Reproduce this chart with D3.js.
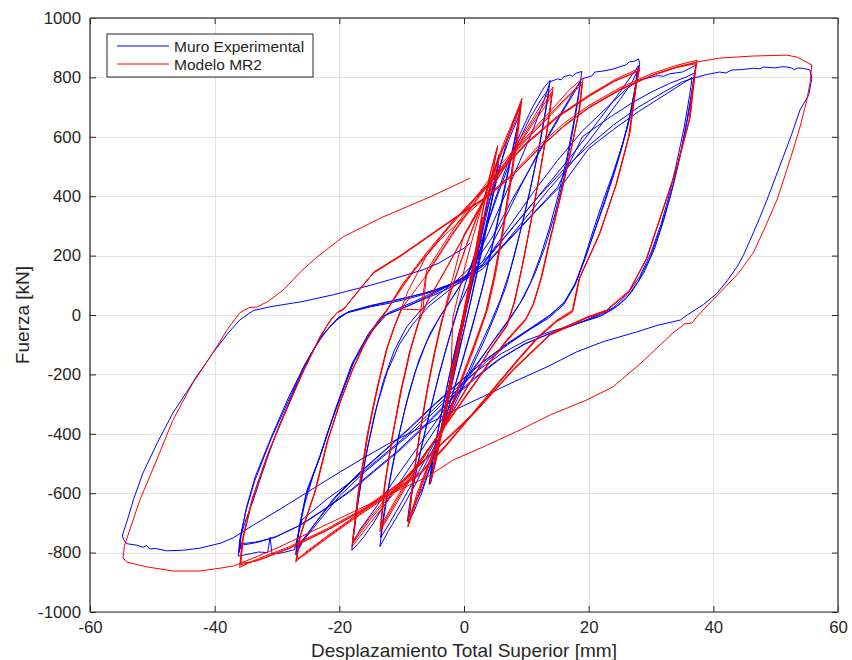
<!DOCTYPE html>
<html>
<head>
<meta charset="utf-8">
<script src="https://cdn.jsdelivr.net/npm/d3@7"></script>
<style>
  body { margin: 0; background: #fff; }
  text { font-family: "Liberation Sans", Arial, Helvetica, sans-serif; fill: #262626; }
</style>
</head>
<body>
<svg id="chart" width="852" height="660"></svg>
<script>
// Ticks
const xTicks = [-60, -40, -20, 0, 20, 40, 60];
const yTicks = [-1000, -800, -600, -400, -200, 0, 200, 400, 600, 800, 1000];

// Series names
const seriesNames = ["Muro Experimental", "Modelo MR2"];

// ---- Muro Experimental: [desplazamiento mm, fuerza kN], tramo a tramo ----
const muroNivel1 = [[0,0],[1.2,120],[2.4,240],[3.1,310],[2.6,250],[1.4,120],[0.2,0],[-1,-120],[-2.2,-240],[-3.2,-330],[-2.7,-270],[-1.5,-150],[-0.5,-40],[0.6,70],[1.8,190],[3,300],[2.4,230],[1.2,100],[0,-20],[-1.4,-150],[-2.6,-260],[-3.1,-320],[-2.4,-240],[-1.2,-110],[-0.3,-20]];
const muroNivel2 = [[0.8,90],[2,200],[3.2,320],[4.4,440],[5.6,540],[5.2,470],[4,340],[2.6,200],[1.2,60],[-0.4,-90],[-2,-240],[-3.6,-390],[-4.8,-500],[-5.6,-570],[-5.1,-490],[-3.9,-360],[-2.5,-220],[-1,-80],[0.4,40],[1.8,170],[3.2,300],[4.5,420],[5.5,510],[5,440],[3.7,300],[2.2,150],[0.8,20],[-0.8,-120],[-2.4,-270],[-3.9,-410],[-5.3,-540],[-4.9,-470],[-3.6,-330],[-2.2,-190],[-0.8,-60]];
const muroNivel3 = [[0.6,40],[2,160],[3.6,310],[5.2,450],[6.8,580],[8.2,670],[9.1,705],[8.6,640],[7.4,520],[6,380],[4.6,240],[3.2,110],[1.8,0],[0.2,-120],[-1.6,-250],[-3.4,-380],[-5.2,-500],[-6.8,-600],[-8.2,-670],[-9.1,-695],[-8.6,-620],[-7.4,-500],[-6,-370],[-4.6,-250],[-3.1,-130],[-1.6,-20],[0,90],[1.8,210],[3.6,350],[5.4,480],[7.2,590],[8.6,660],[9,690],[8.4,610],[7.1,480],[5.7,340],[4.2,200],[2.7,70],[1.2,-50],[-0.6,-180],[-2.6,-320],[-4.6,-460],[-6.6,-580],[-8.4,-660],[-8.9,-680],[-8.3,-590],[-7,-460],[-5.5,-330],[-4,-200],[-2.4,-80],[-0.8,30]];
const muroNivel4 = [[1,110],[3,250],[5,390],[7,510],[9,610],[11,700],[12.8,765],[13.8,790],[13.4,720],[12.3,590],[11,460],[9.6,330],[8.2,210],[6.8,100],[5.2,10],[3.4,-80],[1.4,-170],[-0.8,-270],[-3,-370],[-5.4,-470],[-7.8,-570],[-10.2,-660],[-12.2,-730],[-13.5,-780],[-13,-700],[-12,-570],[-10.8,-440],[-9.4,-310],[-7.8,-190],[-6,-90],[-4,-10],[-1.8,60],[0.6,140],[3,260],[5.5,410],[8,550],[10.5,660],[12.5,730],[13.6,760],[13,680],[11.8,540],[10.4,400],[8.9,270],[7.4,150],[5.8,50],[4,-40],[2,-130],[-0.2,-230],[-2.6,-340],[-5,-440],[-7.6,-540],[-10,-630],[-12.2,-710],[-13.4,-750],[-12.8,-660],[-11.6,-520],[-10.3,-390],[-8.8,-260],[-7.2,-150],[-5.4,-60],[-3.4,10],[-1.2,80],[1.5,170]];
const muroNivel5 = [[4,280],[6.5,400],[9,520],[11,620],[12.8,720],[13.8,785],[15,795],[15.6,792],[16,802],[17,808],[17.4,804],[18,814],[18.9,820],[18.5,760],[17.6,650],[16.5,530],[15.2,410],[13.8,300],[12.3,200],[10.7,110],[9,40],[7,-20],[4.6,-90],[2,-170],[-0.8,-260],[-3.8,-360],[-7,-460],[-10.2,-560],[-13.4,-660],[-14.5,-700],[-16,-745],[-17,-770],[-18,-792],[-17.6,-720],[-16.8,-600],[-15.7,-470],[-14.4,-340],[-12.9,-220],[-11.2,-120],[-9.2,-40],[-6.8,20],[-4,70],[-1,120],[1.5,170],[4.5,260],[7.5,380],[10.5,490],[13.5,600],[16,690],[18,760],[18.7,790],[18.2,710],[17.2,590],[16,460],[14.6,340],[13,230],[11.4,140],[9.6,60],[7.5,-10],[5,-80],[2.2,-160],[-1,-250],[-4.2,-350],[-7.6,-450],[-11,-550],[-14.2,-650],[-16.6,-720],[-17.9,-770],[-17.4,-690],[-16.5,-560],[-15.3,-430],[-13.9,-300],[-12.3,-190],[-10.4,-100],[-8.2,-30],[-5.6,30],[-2.6,80],[0.4,130],[3,180]];
const muroNivel6 = [[6,300],[9,430],[12,550],[15,660],[17.5,750],[18.9,795],[20.5,805],[21,818],[22.5,822],[23.9,828],[25,836],[26,842],[26.5,852],[27.4,855],[28,862],[28.2,845],[27.9,810],[27.2,720],[26.2,630],[25.2,560],[23.8,470],[22.4,390],[20.8,290],[19.3,190],[17.8,100],[16,35],[13.6,-10],[10.5,-50],[7,-100],[3.4,-160],[0,-230],[-4,-310],[-8,-390],[-12,-460],[-16,-530],[-20,-610],[-23.5,-700],[-25.8,-760],[-27,-808],[-26.8,-757],[-25.6,-640],[-24.2,-540],[-23.1,-478],[-21.8,-390],[-20.4,-310],[-19,-230],[-17.8,-162],[-16.4,-105],[-15.1,-61],[-13,-7],[-11.9,10],[-8,45],[-4,85],[0,125],[3,170],[6.5,260],[10,350],[13.5,440],[17,530],[20,610],[22.5,680],[25,750],[27,810],[28,840],[27.6,780],[26.7,680],[25.5,580],[24.2,490],[22.8,400],[21.2,300],[19.6,200],[18,110],[16.2,45],[13.8,0],[10.6,-45],[7,-95],[3.2,-155],[-0.6,-225],[-4.6,-300],[-8.6,-380],[-12.6,-455],[-16.6,-530],[-20.4,-610],[-23.8,-700],[-26,-760],[-26.8,-790],[-26.4,-710],[-25.2,-590],[-23,-470],[-20.3,-300],[-17.6,-155],[-14.8,-55],[-12.5,0],[-8.5,35],[-4.5,70],[-0.5,110],[3,155],[6.5,240],[10,330],[13.5,420],[17,505],[20,585],[22.5,655],[25,725],[27,785],[27.8,822],[27.4,760],[26.5,660],[25.3,560],[24,470],[22.6,380],[21,285],[19.4,190],[17.8,105],[16,40],[13.6,-5],[10.4,-50],[6.8,-100],[3,-160],[-1,-230],[-5,-305],[-9,-385],[-13,-460],[-17,-535],[-20.8,-615],[-24,-705],[-26.2,-770],[-26.9,-800],[-26.6,-735],[-25.4,-610],[-23.2,-480],[-20.6,-315],[-18,-165],[-15.3,-62],[-13.2,-5],[-9,30]];
const muroNivel7 = [[-5,70],[-1,115],[3,170],[7,290],[11,410],[15,520],[19,620],[23,700],[26,760],[28,790],[29,796],[30,800],[31,806],[32,804],[33,812],[34,815],[35,818],[36,828],[37.2,842],[37,800],[36.4,720],[35.5,620],[34.4,510],[33.1,400],[31.6,295],[29.9,195],[28,115],[26,55],[23.8,18],[21.8,-5],[18,-30],[14,-55],[10,-85],[6,-130],[2,-190],[-2,-260],[-6,-340],[-10,-420],[-14,-490],[-18,-560],[-22,-620],[-26,-690],[-27.2,-790],[-29,-800],[-30.8,-805],[-31.1,-748],[-31.5,-800],[-33,-798],[-34.5,-805],[-36.2,-812],[-36,-757],[-35,-690],[-33.8,-623],[-32.5,-540],[-31.1,-455],[-29.8,-380],[-28.4,-310],[-27.1,-245],[-25.8,-185],[-24.5,-130],[-23.1,-84],[-21.8,-45],[-20.4,-17],[-18.8,7],[-15.1,27],[-11.9,40],[-8,60],[-4,85],[0,120],[3,165],[7,250],[11,340],[15,430],[19,600],[23,660],[27,715],[30,750],[33,780],[35.5,800],[37,815],[36.6,760],[35.8,660],[34.8,550],[33.6,440],[32.2,330],[30.6,225],[28.8,140],[26.8,75],[24.6,30],[22,0],[18,-30],[14,-60],[10,-95],[6,-145],[2,-210],[-2,-285],[-6,-370],[-10,-450],[-14,-520],[-18,-590],[-22,-650],[-26,-705],[-30,-745],[-33,-765],[-35.6,-775],[-36,-790],[-35.8,-740],[-35,-660],[-33.6,-560],[-31,-420],[-28.2,-290],[-25.6,-170],[-23,-75],[-20.2,-10],[-18.6,10],[-15,30],[-11.8,45],[-7,70],[-3,95],[1,135],[4,180],[8,270],[12,360],[16,445],[20,560],[24,625],[28,685],[31,725],[34,765],[36.6,800],[36.2,740],[35.3,630],[34.2,520],[33,410],[31.6,305],[30,210],[28.2,130],[26.2,70],[24,25],[21.5,0],[17.5,-35],[13.5,-65],[9.5,-100],[5.5,-150],[1.5,-215],[-2.5,-290],[-6.5,-375],[-10.5,-455],[-14.5,-525],[-18.5,-595],[-22.5,-655],[-26.5,-710],[-30.5,-750],[-33.5,-765],[-35.8,-770],[-36.1,-800],[-35.7,-730],[-34.8,-640],[-33.5,-545],[-30.9,-410],[-28.2,-280],[-25.5,-165],[-22.9,-72],[-20.1,-8],[-18.4,12],[-15,32],[-11,50],[-6,75],[-2,105],[1,140]];
const muroNivel8 = [[4,200],[8,300],[12,400],[16,490],[20,570],[24,640],[28,700],[32,750],[35,785],[37.4,801],[39,810],[41,818],[42,815],[43,825],[44.5,826],[46.4,831],[47.5,829],[48,835],[50,832],[51,836],[51.8,835],[52.5,832],[53,826],[53.6,832],[54.5,830],[55.5,825],[55.8,797],[55.3,740],[53.9,690],[52.6,610],[51.2,532],[50,465],[48.8,398],[47.4,325],[45.9,252],[44.8,200],[43.8,162],[42.2,115],[40.6,73],[38.4,35],[35.8,0],[34.7,-17],[31,-35],[27.7,-57],[22.3,-90],[18.1,-124],[13.3,-175],[7.9,-226],[3,-275],[-2,-325],[-7,-380],[-11.9,-431],[-16,-480],[-20,-530],[-25,-595],[-30,-660],[-34,-710],[-37,-750],[-39,-768],[-42.4,-785],[-45,-792],[-47.7,-794],[-49.5,-786],[-50.4,-788],[-50.9,-776],[-51.5,-782],[-52.5,-775],[-54.1,-770],[-54.6,-757],[-54.8,-745],[-54.7,-735],[-54,-690],[-53,-620],[-51.5,-532],[-49.2,-430],[-46.7,-330],[-44.5,-260],[-43,-210],[-41.5,-165],[-40.3,-128],[-38,-65],[-36,-17],[-33.8,15],[-31,28],[-26,45],[-21,68],[-15,100],[-10,130],[-6.6,152],[-4,175],[-2,200],[0,225],[1,242]];

// ---- Modelo MR2: [desplazamiento mm, fuerza kN], tramo a tramo ----
const modeloNivel1 = [[0,0],[1,110],[2,220],[3,330],[2.2,240],[1,110],[0,0],[-1,-110],[-2,-220],[-3,-330],[-2.2,-240],[-1,-110],[0,0],[1,115],[2.1,230],[3,325],[2.1,225],[0.9,95],[-0.2,-25],[-1.3,-145],[-2.3,-255],[-3,-325],[-2.1,-225],[-0.9,-95]];
const modeloNivel2 = [[0.4,50],[1.6,190],[2.8,330],[4,460],[5.4,570],[4.6,480],[3.4,350],[2.2,220],[1,90],[-0.4,-60],[-1.8,-210],[-3.2,-360],[-4.4,-480],[-5.4,-570],[-4.6,-480],[-3.4,-350],[-2.2,-220],[-1,-90],[0.4,60],[1.8,210],[3.2,370],[4.4,490],[5.3,560],[4.5,470],[3.2,330],[2,200],[0.8,70],[-0.6,-80],[-2,-230],[-3.4,-380],[-4.6,-500],[-5.3,-560],[-4.5,-470],[-3.3,-340],[-2.1,-210]];
const modeloNivel3 = [[-1.8,-10],[0,150],[1.4,260],[3.6,420],[6.2,570],[8.2,670],[9.3,730],[8.6,600],[7.4,430],[6.2,270],[5,130],[3.8,20],[2,-90],[-0.5,-230],[-3,-370],[-5.5,-500],[-7.5,-620],[-9,-714],[-8.3,-570],[-7.2,-410],[-6,-260],[-4.8,-130],[-3.6,-20],[-1.8,100],[0.8,260],[3.6,415],[6.2,560],[8.2,660],[9.1,715],[8.4,590],[7.2,420],[6,260],[4.8,125],[3.6,15],[1.8,-95],[-0.7,-235],[-3.2,-375],[-5.6,-500],[-7.5,-610],[-8.9,-700],[-8.2,-560],[-7.1,-400],[-5.9,-250],[-4.7,-125],[-3.5,-15],[-1.7,105],[0.9,265],[3.7,420],[6.3,560],[8.2,650],[9,705],[8.3,580],[7.1,410],[5.9,250],[4.7,120],[3.5,10],[1.6,-100],[-0.9,-240],[-3.4,-380],[-5.8,-505],[-7.6,-605],[-8.8,-690],[-8.1,-550],[-7,-390],[-5.8,-245],[-4.6,-120],[-3.4,-10]];
const modeloNivel4 = [[-2.6,60],[0,270],[4,420],[8,560],[11,660],[13,730],[14.3,768],[13.5,640],[12.2,480],[10.8,320],[9.4,170],[8.2,50],[7,-30],[4,-120],[0,-260],[-4,-400],[-8,-530],[-11,-640],[-13.5,-730],[-12.8,-580],[-11.6,-420],[-10.2,-260],[-8.8,-130],[-7.4,-30],[-6,40],[-3,150],[0,265],[4,410],[8,550],[11,650],[13,715],[14.2,755],[13.4,630],[12.1,470],[10.7,310],[9.3,160],[8.1,45],[6.9,-35],[3.9,-125],[-0.1,-265],[-4.1,-405],[-8.1,-530],[-11.1,-635],[-13.4,-720],[-12.7,-570],[-11.5,-410],[-10.1,-255],[-8.7,-125],[-7.3,-25],[-5.9,45],[-2.9,155],[0.1,270],[4.1,415],[8.1,550],[11.1,645],[13.1,705],[14.1,745],[13.3,620],[12,460],[10.6,300],[9.2,150],[8,40],[6.8,-40],[3.8,-130],[-0.2,-270],[-4.2,-405],[-8.2,-525],[-11.2,-630],[-13.3,-710],[-12.6,-560],[-11.4,-400],[-10,-250],[-8.6,-120],[-7.2,-20]];
const modeloNivel5 = [[-6,150],[-2,280],[2,400],[6,510],[10,600],[14,690],[17,760],[19.1,798],[18.6,700],[17.2,560],[15.5,400],[13.8,250],[12.5,130],[11.2,40],[10,-10],[7,-80],[4,-160],[0,-280],[-4,-400],[-8,-520],[-12,-620],[-15,-700],[-18,-781],[-17,-600],[-15.5,-400],[-14,-250],[-12.5,-120],[-11.2,-40],[-10,20],[-6.6,17],[-6,140],[-2,270],[2,390],[6,500],[10,595],[14,680],[17,745],[19,785],[18.5,690],[17.1,550],[15.4,390],[13.7,245],[12.4,125],[11.1,35],[9.9,-15],[6.9,-85],[3.9,-165],[-0.1,-285],[-4.1,-405],[-8.1,-520],[-12.1,-615],[-15.1,-690],[-17.9,-770],[-16.9,-590],[-15.4,-395],[-13.9,-245],[-12.4,-115],[-11.1,-35],[-9.9,25],[-6,135],[-2,265],[2,385],[6,495],[10,590],[14,675],[17,740],[18.9,775],[18.4,680],[17,540],[15.3,385],[13.6,240],[12.3,120],[11,30],[9.8,-20],[6.8,-90],[3.8,-170],[-0.2,-290],[-4.2,-410],[-8.2,-520],[-12.2,-610],[-15.2,-685],[-17.8,-760],[-16.8,-585],[-15.3,-390],[-13.8,-240],[-12.3,-110],[-11,-30]];
const modeloNivel6 = [[-9,80],[-6,200],[-2,310],[2,400],[6,490],[10,580],[15,670],[20,740],[24,790],[28.2,832],[27.7,780],[26.6,612],[24.5,444],[21.8,276],[18.6,128],[17.5,17],[14.9,-17],[12,-70],[9,-140],[5,-240],[1,-340],[-3,-440],[-7,-530],[-12,-600],[-17,-670],[-22,-745],[-25.5,-800],[-27,-832],[-26.4,-750],[-24,-600],[-22,-430],[-20,-300],[-18,-190],[-16,-100],[-14,-30],[-12.5,10],[-10,95],[-6,205],[-2,305],[2,395],[6,485],[10,575],[15,665],[20,735],[24,785],[28.1,825],[27.6,770],[26.5,605],[24.4,438],[21.7,270],[18.5,122],[17.4,12],[14.8,-22],[11.9,-75],[8.9,-145],[4.9,-245],[0.9,-345],[-3.1,-445],[-7.1,-535],[-12.1,-605],[-17.1,-675],[-22.1,-750],[-25.6,-805],[-26.9,-825],[-26.3,-745],[-23.9,-595],[-21.9,-425],[-19.9,-295],[-17.9,-185],[-15.9,-95],[-13.9,-25],[-12.4,15],[-10,100],[-6,210],[-2,310],[2,398],[6,488],[10,578],[15,668],[20,737],[24,787],[28,820],[27.5,765],[26.4,600],[24.3,432],[21.6,265],[18.4,118],[17.3,8],[14.7,-25],[11.8,-80],[8.8,-150],[4.8,-250],[0.8,-350],[-3.2,-450],[-7.2,-540],[-12.2,-610],[-17.2,-680],[-22.2,-755],[-25.7,-810],[-26.8,-820],[-26.2,-740],[-23.8,-590],[-21.8,-420],[-19.8,-290],[-17.8,-180],[-15.8,-90],[-13.8,-20],[-12.3,20]];
const modeloNivel7 = [[-8,150],[-4,250],[0,330],[4.2,410],[8,480],[12,570],[16,645],[20,705],[25,765],[30,812],[34,840],[37.4,858],[37,800],[36.3,667],[34.2,498],[31.9,353],[29.4,195],[26.6,84],[22.9,17],[19.7,-7],[14,-60],[8,-180],[2,-320],[-4,-440],[-10,-560],[-16,-650],[-22,-720],[-28,-780],[-33,-820],[-36,-850],[-35.6,-760],[-34,-620],[-31.5,-470],[-29,-343],[-26,-200],[-23.1,-74],[-21.5,-20],[-20.4,7],[-19.4,17],[-17,80],[-14.6,140],[-10,200],[-6.6,250],[-1.1,330],[4.2,405],[8,475],[12,560],[16,635],[20,697],[25,757],[30,805],[34,833],[37.3,850],[36.9,795],[36.2,660],[34.1,492],[31.8,347],[29.3,190],[26.5,80],[22.8,14],[19.6,-10],[13.9,-65],[7.9,-185],[1.9,-325],[-4.1,-445],[-10.1,-565],[-16.1,-655],[-22.1,-725],[-28.1,-785],[-33.1,-825],[-35.9,-842],[-35.5,-755],[-33.9,-615],[-31.4,-465],[-28.9,-338],[-25.9,-195],[-23,-70],[-21.4,-17],[-20.3,9],[-19.3,20],[-16.9,82],[-14.5,143],[-9.9,203],[-6.5,253],[-1,333],[4.3,408],[8.1,476],[12.1,562],[16.1,637],[20.1,699],[25.1,759],[30.1,806],[34.1,834],[37.2,846],[36.8,790],[36.1,655],[34,488],[31.7,342],[29.2,186],[26.4,77],[22.7,11],[19.5,-12],[13.8,-68],[7.8,-188],[1.8,-328],[-4.2,-448],[-10.2,-568],[-16.2,-658],[-22.2,-728],[-28.2,-788],[-33.2,-828],[-35.8,-836],[-35.4,-750],[-33.8,-610],[-31.3,-460],[-28.8,-335],[-25.8,-190],[-22.9,-66],[-21.3,-14],[-20.2,11],[-19.2,22],[-16.8,84],[-14.4,146],[-9.8,206],[-6.4,256],[-0.9,336],[4.4,410]];
const modeloNivel8 = [[8.2,478],[12.2,565],[16.2,640],[20.2,702],[25.2,762],[30.2,808],[34.2,836],[37.4,852],[41,865],[46.4,872],[51.8,875],[53.5,868],[55.8,842],[55.5,780],[55,724],[54,640],[52.8,556],[51.5,470],[50.2,387],[48.3,295],[46.4,209],[44,140],[41,74],[38.5,20],[37.2,-10],[36.6,-27],[35.4,-30],[33.5,-61],[31,-110],[29,-150],[27.1,-185],[23.9,-242],[19.7,-286],[14,-335],[9,-387],[3,-445],[-1.7,-488],[-5.9,-545],[-10,-585],[-15,-635],[-20,-685],[-25,-735],[-30,-785],[-34,-820],[-37,-845],[-39,-852],[-42.4,-862],[-46.7,-862],[-50.9,-848],[-54.1,-832],[-54.7,-818],[-54.5,-780],[-54,-747],[-52,-623],[-49.3,-488],[-46.7,-354],[-43.5,-229],[-40.3,-128],[-38,-50],[-36,7],[-34.5,25],[-33.2,27],[-31.5,45],[-29,84],[-26,150],[-23.6,195],[-19.4,263],[-13,330],[-5.5,397],[1,461]];

const muroTramos = [muroNivel1, muroNivel2, muroNivel3, muroNivel4, muroNivel5, muroNivel6, muroNivel7, muroNivel8];
const modeloTramos = [modeloNivel1, modeloNivel2, modeloNivel3, modeloNivel4, modeloNivel5, modeloNivel6, modeloNivel7, modeloNivel8];

const seriesColors = ["#0000ff", "#ff0000"];

// ---- Layout ----
const svg = d3.select("#chart");
const plot = { left: 90, top: 18, right: 838, bottom: 612 };

const x = d3.scaleLinear().domain([-60, 60]).range([plot.left, plot.right]);
const y = d3.scaleLinear().domain([-1000, 1000]).range([plot.bottom, plot.top]);

// plain integer labels with an ASCII minus sign
const plainNumber = d => String(d);

// grid
const grid = svg.append("g").attr("stroke", "#e3e3e3").attr("stroke-width", 1);
grid.selectAll(".gx").data(xTicks).join("line")
  .attr("x1", d => Math.round(x(d)) + 0.5).attr("x2", d => Math.round(x(d)) + 0.5)
  .attr("y1", plot.top).attr("y2", plot.bottom);
grid.selectAll(".gy").data(yTicks).join("line")
  .attr("y1", d => Math.round(y(d)) + 0.5).attr("y2", d => Math.round(y(d)) + 0.5)
  .attr("x1", plot.left).attr("x2", plot.right);

// curves
svg.append("clipPath").attr("id", "clip").append("rect")
  .attr("x", plot.left).attr("y", plot.top)
  .attr("width", plot.right - plot.left).attr("height", plot.bottom - plot.top);

const line = d3.line().x(d => x(d[0])).y(d => y(d[1]));
const curves = svg.append("g").attr("clip-path", "url(#clip)");
[muroTramos.flat(), modeloTramos.flat()].forEach((pts, i) => {
  curves.append("path")
    .attr("d", line(pts))
    .attr("fill", "none")
    .attr("stroke", seriesColors[i])
    .attr("stroke-width", 1)
    .attr("stroke-linejoin", "round");
});

// axes (ticks inward on all four sides)
const tickFont = 16.8;
function styleAxis(g) {
  g.select(".domain").remove();
  g.selectAll(".tick line").attr("stroke", "#262626");
  g.selectAll(".tick text").attr("font-size", tickFont).attr("fill", "#262626")
    .attr("font-family", "'Liberation Sans', Arial, Helvetica, sans-serif");
}
svg.append("g").attr("transform", `translate(0,${plot.bottom})`)
  .call(d3.axisBottom(x).tickValues(xTicks).tickFormat(plainNumber).tickSizeInner(-6).tickSizeOuter(0).tickPadding(9))
  .call(styleAxis);
svg.append("g").attr("transform", `translate(${plot.left},0)`)
  .call(d3.axisLeft(y).tickValues(yTicks).tickFormat(plainNumber).tickSizeInner(-6).tickSizeOuter(0).tickPadding(9))
  .call(styleAxis);
svg.append("g").attr("transform", `translate(0,${plot.top})`)
  .call(d3.axisTop(x).tickValues(xTicks).tickSizeInner(-6).tickSizeOuter(0).tickFormat(""))
  .call(styleAxis);
svg.append("g").attr("transform", `translate(${plot.right},0)`)
  .call(d3.axisRight(y).tickValues(yTicks).tickSizeInner(-6).tickSizeOuter(0).tickFormat(""))
  .call(styleAxis);

// frame
svg.append("line").attr("x1", plot.left).attr("x2", plot.right).attr("y1", plot.bottom).attr("y2", plot.bottom)
  .attr("stroke", "#262626").attr("stroke-width", 1.2);
svg.append("line").attr("x1", plot.left).attr("x2", plot.left).attr("y1", plot.top).attr("y2", plot.bottom)
  .attr("stroke", "#262626").attr("stroke-width", 1.2);
svg.append("line").attr("x1", plot.left).attr("x2", plot.right).attr("y1", plot.top).attr("y2", plot.top)
  .attr("stroke", "#555").attr("stroke-width", 1.5);
svg.append("line").attr("x1", plot.right).attr("x2", plot.right).attr("y1", plot.top).attr("y2", plot.bottom)
  .attr("stroke", "#555").attr("stroke-width", 1.5);

// axis titles
svg.append("text").attr("x", (plot.left + plot.right) / 2).attr("y", 657)
  .attr("text-anchor", "middle").attr("font-size", 19)
  .text("Desplazamiento Total Superior [mm]");
svg.append("text").attr("transform", `translate(29,${(plot.top + plot.bottom) / 2}) rotate(-90)`)
  .attr("text-anchor", "middle").attr("font-size", 19)
  .text("Fuerza [kN]");

// legend
const legend = svg.append("g").attr("transform", "translate(107,34)");
legend.append("rect").attr("width", 206).attr("height", 43)
  .attr("fill", "#fff").attr("stroke", "#262626").attr("stroke-width", 1);
seriesNames.forEach((name, i) => {
  const ly = 12 + i * 18;
  legend.append("line").attr("x1", 10).attr("x2", 62).attr("y1", ly).attr("y2", ly)
    .attr("stroke", seriesColors[i]).attr("stroke-width", 1);
  legend.append("text").attr("x", 67).attr("y", ly + 5.5).attr("font-size", 15.5).text(name);
});
</script>
</body>
</html>
